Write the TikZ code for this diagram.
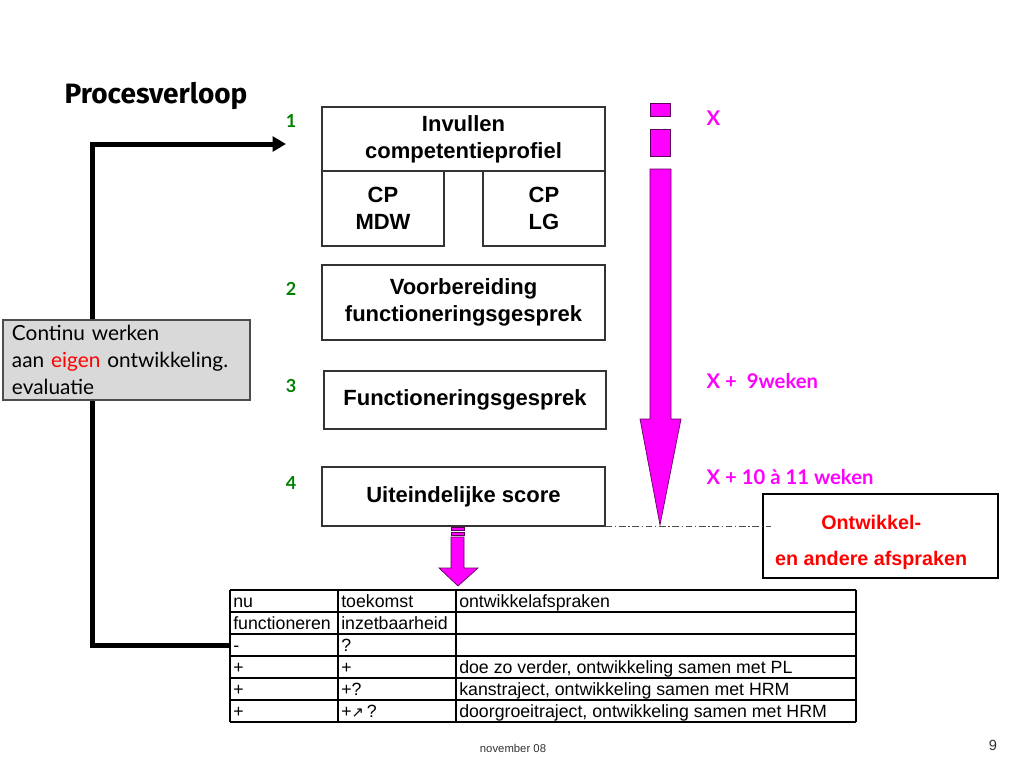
\documentclass[tikz,border=0pt]{standalone}
\usepackage{fontspec}
\setmainfont{Liberation Sans}
\newfontfamily\gill{Lato}
\newfontfamily\comic{Fira Sans}
\newfontfamily\symb{DejaVu Sans}
\usepackage{tikz}
\usetikzlibrary{arrows.meta, positioning, calc}

\definecolor{stapgroen}{RGB}{0,128,0}
\definecolor{paars}{RGB}{255,0,255}
\definecolor{rand}{RGB}{90,0,90}

\begin{document}
\begin{tikzpicture}[
    x=0.75pt, y=-0.75pt,
    box/.style   = {draw=black!80, line width=0.8pt, align=center, inner sep=0pt,
                    font=\fontsize{16.5}{20.5}\selectfont\bfseries},
    numlab/.style = {font=\gill\fontsize{13.5}{15}\selectfont\bfseries, text=stapgroen},
    xlab/.style  = {font=\gill\fontsize{15.2}{17}\selectfont\bfseries, text=paars, anchor=west},
    cell/.style  = {font=\fontsize{13.3}{15}\selectfont, anchor=base west, inner sep=0pt},
    loopline/.style = {line width=3.75pt, -{Triangle[length=10pt, width=11pt]}},
    pijl/.style  = {fill=paars, draw=rand, line width=0.5pt}
  ]
  \useasboundingbox (0,0) rectangle (1024,768);

  % --- title ---
  \node[font=\comic\fontsize{21}{24}\selectfont\bfseries, anchor=west] (titel) at (60,96) {Procesverloop};

  % --- process boxes ---
  \node[box, minimum width=212.25pt, minimum height=48pt] (inv) at (463.5,139) {Invullen\\competentieprofiel};
  \node[box, minimum width=91.5pt, minimum height=56.25pt] (mdw) at (383,208.5) {CP\\MDW};
  \node[box, minimum width=91.5pt, minimum height=56.25pt] (lg) at (544,208.5) {CP\\LG};
  \node[box, minimum width=212.25pt, minimum height=56.25pt] (voor) at (463.5,302.5) {Voorbereiding\\functioneringsgesprek};
  \node[box, minimum width=211.5pt, minimum height=43.5pt] (func) at (465,400) {Functioneringsgesprek};
  \node[box, minimum width=212.25pt, minimum height=44.25pt] (score) at (463.5,496.5) {Uiteindelijke score};

  % --- step numbers ---
  \node[numlab] (n1) at (291,121) {1};
  \node[numlab] (n2) at (291,289) {2};
  \node[numlab] (n3) at (291,386) {3};
  \node[numlab] (n4) at (291,483) {4};

  % --- time line (magenta arrow) ---
  \draw[pijl] (650,103) rectangle (670,116);
  \draw[pijl] (650,129) rectangle (670,156);
  \draw[pijl] (650,169) -- (671,169) -- (671,419) -- (681,419) -- (660,525)
              -- (640,419) -- (650,419) -- cycle;

  \node[xlab] (x0) at (702,118) {X};
  \node[xlab] (x9) at (702,381) {X +\ \ 9weken};
  \node[xlab] (x10) at (702,477) {X + 10 à 11 weken};

  % --- agreements box ---
  \node[box, draw=black, minimum width=176.25pt, minimum height=63pt, text=red,
        font=\fontsize{14.8}{17}\selectfont\bfseries] (ontw) at (880.5,536)
       {\hspace*{-14pt}\rule{0pt}{20pt}Ontwikkel-\\[10pt]\hspace*{-14pt}en andere afspraken};
  \draw[black!70, line width=0.6pt, dash pattern=on 5pt off 2pt on 1pt off 2pt]
       (score.south east) -- ($(score.south east -| ontw.west)+(9,0)$);

  % --- small arrow to table ---
  \draw[pijl] (451,527) rectangle (464,530);
  \draw[pijl] (451,532) rectangle (464,535);
  \draw[pijl] (451,537) -- (464,537) -- (464,568) -- (478,568) -- (458,586)
              -- (439,568) -- (451,568) -- cycle;

  % --- table ---
  \foreach \y in {590,612,...,722}
    \draw[line width=1pt] (230,\y) -- (856,\y);
  \foreach \x in {230,338,456,856}
    \draw[line width=1pt] (\x,590) -- (\x,722);
  \node[cell] (c11) at (233,607) {nu};
  \node[cell] (c12) at (341,607) {toekomst};
  \node[cell] (c13) at (459,607) {ontwikkelafspraken};
  \node[cell] (c21) at (233,629) {functioneren};
  \node[cell] (c22) at (341,629) {inzetbaarheid};
  \node[cell] (c31) at (233,651) {-};
  \node[cell] (c32) at (341,651) {?};
  \node[cell] (c41) at (233,673) {+};
  \node[cell] (c42) at (341,673) {+};
  \node[cell] (c43) at (459,673) {doe zo verder, ontwikkeling samen met PL};
  \node[cell] (c51) at (233,695) {+};
  \node[cell] (c52) at (341,695) {+?};
  \node[cell] (c53) at (459,695) {kanstraject, ontwikkeling samen met HRM};
  \node[cell] (c61) at (233,717) {+};
  \node[cell] (c62) at (341,717) {+{\symb\fontsize{11}{12}\selectfont ↗}\,?};
  \node[cell] (c63) at (459,717) {doorgroeitraject, ontwikkeling samen met HRM};

  % --- feedback loop ---
  \coordinate (rij3) at (230,645);
  \coordinate (hoek) at (92,144);
  \coordinate (in1) at (286,144);
  \draw[loopline] (rij3) -| (hoek) -- (in1);

  \node[draw=black!70, line width=0.8pt, fill=black!15, inner xsep=6.75pt, inner ysep=0pt,
        text width=171.75pt, minimum height=60pt, align=left,
        font=\gill\fontsize{15.6}{20}\selectfont] (cont) at (126.5,360)
       {Continu werken\\aan \textcolor{red}{eigen} ontwikkeling.\\evaluatie};

  % --- footer ---
  \node[font=\fontsize{8.5}{10}\selectfont, text=black!80] (datum) at (513,748) {november 08};
  \node[font=\fontsize{11}{13}\selectfont, text=black!80] (pagina) at (993,745) {9};

\end{tikzpicture}
\end{document}
